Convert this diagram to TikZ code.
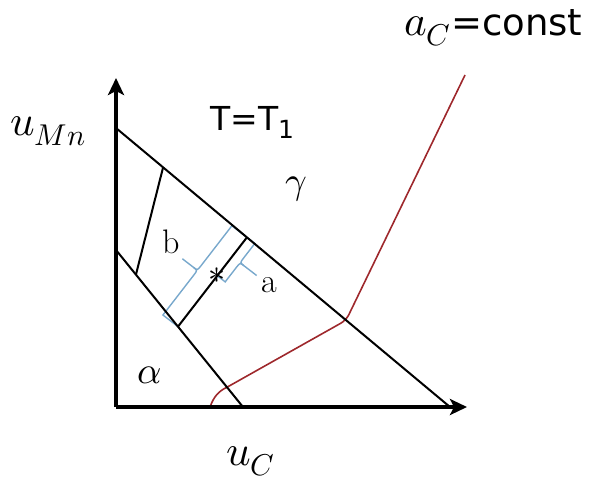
\documentclass[tikz,border=0pt]{standalone}
\usepackage{fontspec}
\usepackage{unicode-math}
\setmathfont{Latin Modern Math}
\usetikzlibrary{arrows.meta,calc}
\newfontfamily\versa{DejaVu Sans}
\definecolor{phasered}{RGB}{158,40,44}
\definecolor{tieblue}{RGB}{120,168,204}
\newcommand{\bigmath}{\fontsize{43}{46}\selectfont}
\newcommand{\bigserif}{\fontsize{34}{38}\selectfont}
% brace beside a tie line: start, end, offset, tip distance
\newcommand{\tiebrace}[4]{%
  \coordinate (bm) at ($(#1)!0.5!(#2)$);
  \coordinate (b1) at ($(#1)!#3!90:(#2)$);
  \coordinate (b2) at ($(#2)!#3!-90:(#1)$);
  \coordinate (bm1) at ($(bm)!#3!90:(#2)$);
  \coordinate (bt) at ($(bm)!#4!90:(#2)$);
  \coordinate (bk) at ($(bm)!#3+5pt!90:(#2)$);
  \draw[bracestyle] (#1) -- (b1) -- ($(bm1)!6pt!(b1)$) .. controls (bm1) .. (bk) -- (bt);
  \draw[bracestyle] (#2) -- (b2) -- ($(bm1)!6pt!(b2)$) .. controls (bm1) .. (bk);
}

\begin{document}
\begin{tikzpicture}[x=1pt,y=-1pt,
    axis/.style={line width=3.5pt,-{Stealth[length=17pt,width=16pt,inset=4pt]}},
    bound/.style={line width=2pt},
    redline/.style={phasered,line width=1.6pt},
    bracestyle/.style={tieblue,line width=1.4pt},
    lbl/.style={anchor=base west,inner sep=0pt}]
  \useasboundingbox (0,0) rectangle (593,480);
  \coordinate (O) at (116,407);
  \coordinate (ytip) at (116,78);
  \coordinate (xtip) at (467,407);
  \coordinate (hA) at (116,128);
  \coordinate (hB) at (450,407);
  \coordinate (gA) at (116,250);
  \coordinate (gB) at (243,407);
  \coordinate (L1) at ($(gA)!0.157!(gB)$);
  \coordinate (U1) at ($(hA)!0.141!(hB)$);
  \coordinate (L2) at ($(gA)!0.488!(gB)$);
  \coordinate (U2) at ($(hA)!0.392!(hB)$);
  \coordinate (star) at ($(L2)!0.57!(U2)$);
  \coordinate (R1) at (210,407);
  \coordinate (R2) at ($(gA)!0.874!(gB)$);
  \coordinate (R3) at ($(hA)!0.689!(hB)$);
  \coordinate (R4) at (465,75);
  % a_C = const
  \draw[redline] (R1) .. controls (214,396) and (219,391) .. (R2)
    [rounded corners=6pt] -- (R3) -- (R4);
  \tiebrace{L2}{U2}{19pt}{38pt}
  \tiebrace{U2}{star}{10pt}{31pt}
  \draw[bound] (hA) -- (hB);
  \draw[bound] (gA) -- (gB);
  \draw[bound] (L1) -- (U1);
  \draw[bound] (L2) -- (U2);
  \node[inner sep=0pt,font=\fontsize{34}{36}\selectfont] (mark) at (star) {$\ast$};
  \draw[axis] (O) -- (ytip);
  \draw[axis] (O) -- (xtip);
  \node[lbl,font=\bigmath] (umn) at (10,135) {$u_{Mn}$};
  \node[lbl,font=\bigmath] (uc) at (226,465) {$u_C$};
  \node[lbl,font=\bigmath] (ac) at (404,35) {$a_C$\fontsize{37}{42}\versa =const};
  \node[lbl,font=\fontsize{33}{38}\versa] (temp) at (210,130) {T=T\raisebox{-8pt}{\fontsize{25}{28}\selectfont 1}};
  \node[lbl,font=\fontsize{38}{42}\selectfont] (gam) at (285,193) {$\gamma$};
  \node[lbl,font=\fontsize{38}{42}\selectfont] (alp) at (137,383) {$\alpha$};
  \node[lbl,font=\bigserif] (lb) at (162,253) {b};
  \node[lbl,font=\bigserif] (la) at (261,292) {a};
\end{tikzpicture}
\end{document}
